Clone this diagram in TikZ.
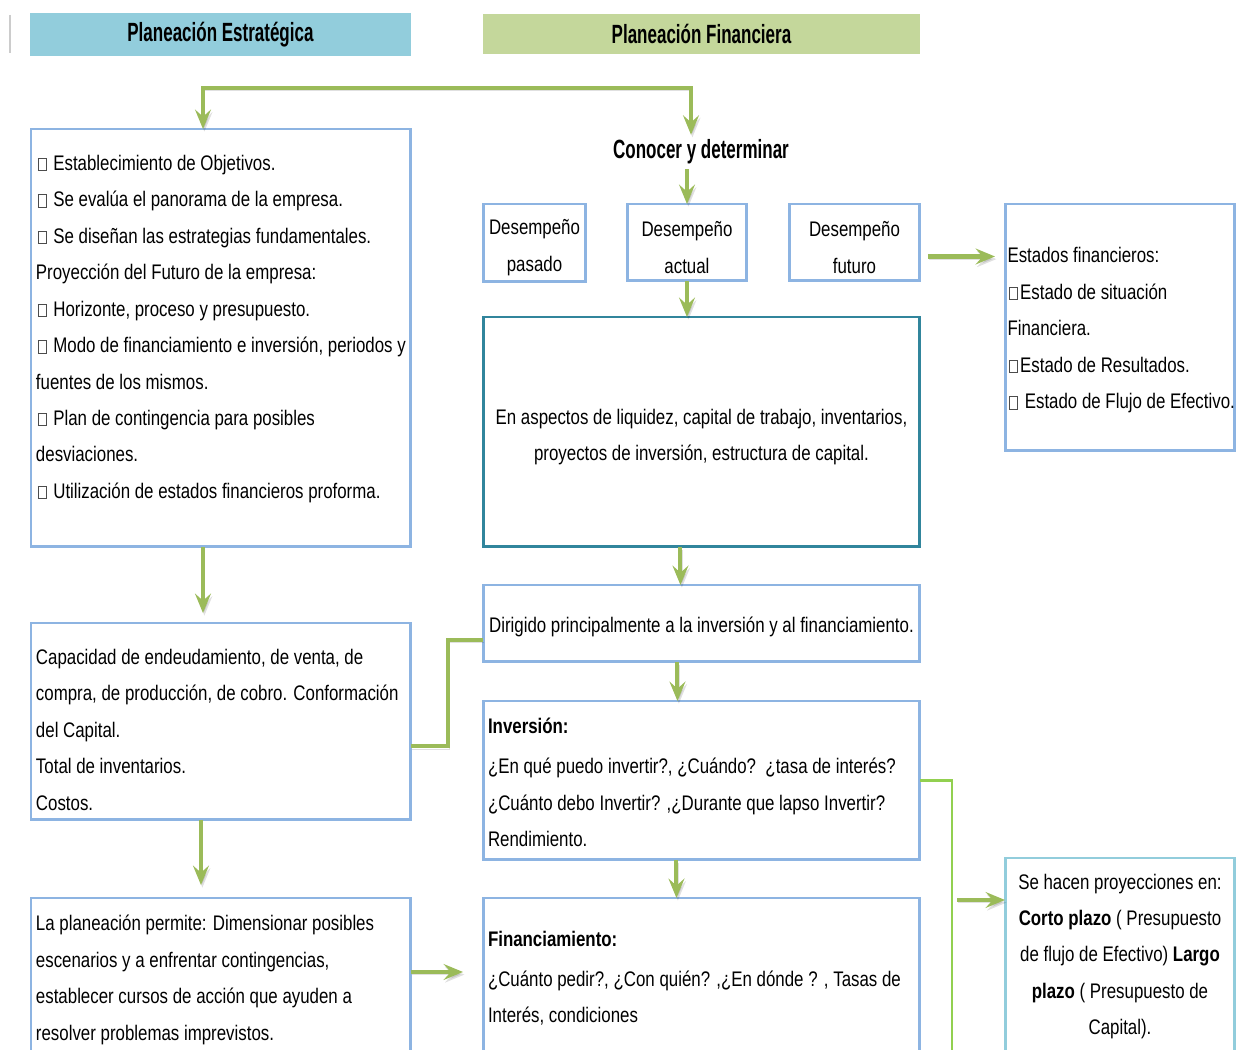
\documentclass[tikz,border=0pt]{standalone}
\usepackage{fontspec}
\setmainfont{Liberation Sans}[FakeStretch=0.8]
\newfontfamily\headfont{Liberation Sans}[FakeStretch=0.645]
\usetikzlibrary{arrows.meta, positioning}

\definecolor{boxblue}{HTML}{8DB4E2}
\definecolor{boxteal}{HTML}{31859C}
\definecolor{boxcyan}{HTML}{92CDDC}
\definecolor{headblue}{HTML}{92CDDC}
\definecolor{headgreen}{HTML}{C4D79B}
\definecolor{arrowgreen}{HTML}{9BBB59}
\definecolor{linegreen}{HTML}{92D050}

% empty glyph box as printed in the source
\newcommand\nobox{\leavevmode{\color{black!70}\fboxsep=0pt\fboxrule=0.4pt\kern1pt\fbox{\rule{0pt}{6.6pt}\hspace{4.2pt}}\kern1.2pt}}
% struts to move a text block down (top) or up (bottom) in its box
\newcommand\padtop[1]{\rule{0pt}{#1}}
\newcommand\padbot[1]{\rule[-#1]{0pt}{0pt}}

\begin{document}
\begin{tikzpicture}[
    x=0.02cm, y=-0.02cm,
    >={Stealth[length=11pt,width=9pt,inset=4pt]},
    every node/.style={outer sep=0pt},
    body/.style={font=\fontsize{12}{20.75}\selectfont},
    head/.style={font=\headfont\bfseries\fontsize{15}{18}\selectfont},
    title/.style={head, anchor=north west, inner sep=0pt},
    box/.style={body, draw=boxblue, line width=1.7pt, anchor=north west,
        inner xsep=0.1cm, align=flush left},
    cbox/.style={box, align=center},
    flow/.style={draw=arrowgreen, line width=2.3pt, ->,
        preaction={draw=black, opacity=0.12, transform canvas={shift={(0.8pt,-1.5pt)}}}},
    link/.style={flow, -},
]
    \useasboundingbox (0,0) rectangle (1237,1050);

    \draw[black!20, line width=1.2pt] (10,15) -- (10,53);

    % headings
    \node[title, fill=headblue,  minimum width=7.62cm, minimum height=0.86cm] (estrat) at (30,13)  {Planeación Estratégica};
    \node[title, fill=headgreen, minimum width=8.74cm, minimum height=0.80cm] (financ) at (483,14) {Planeación Financiera};

    % left column
    \node[box, text width=7.4cm, minimum height=8.36cm] (objetivos) at (31,129) {%
        \nobox{} Establecimiento de Objetivos.\\
        \nobox{} Se evalúa el panorama de la empresa.\\
        \nobox{} Se diseñan las estrategias fundamentales.\\
        Proyección del Futuro de la empresa:\\
        \nobox{} Horizonte, proceso y presupuesto.\\
        \mbox{\nobox{} Modo de financiamiento e inversión, periodos y}\\
        fuentes de los mismos.\\
        \nobox{} Plan de contingencia para posibles\\
        desviaciones.\\
        \nobox{} Utilización de estados financieros proforma.\padbot{0.45cm}};
    \node[box, text width=7.4cm, minimum height=3.94cm] (capac) at (31,623) {%
        \padtop{0.63cm}Capacidad de endeudamiento, de venta, de\\
        \mbox{compra, de producción, de cobro. Conformación}\\
        del Capital.\\
        Total de inventarios.\\
        Costos.};
    \node[box, text width=7.4cm, minimum height=3.28cm] (permite) at (31,898) {%
        La planeación permite: Dimensionar posibles\\
        escenarios y a enfrentar contingencias,\\
        establecer cursos de acción que ayuden a\\
        resolver problemas imprevistos.};

    % middle column
    \node[head, inner sep=0.1cm] (conocer) at (701,152) {Conocer y determinar};
    \node[cbox, inner xsep=0.04cm, minimum width=2.06cm, minimum height=1.54cm] (pasado) at (483,204) {\padtop{0.5cm}Desempeño\\pasado};
    \node[cbox, inner xsep=0.04cm, minimum width=2.40cm, minimum height=1.54cm] (actual) at (627,204) {\padtop{0.5cm}Desempeño\\actual};
    \node[cbox, inner xsep=0.04cm, minimum width=2.62cm, minimum height=1.54cm] (futuro) at (789,204) {\padtop{0.5cm}Desempeño\\futuro};
    \node[cbox, draw=boxteal, minimum width=8.74cm, minimum height=4.6cm] (aspectos) at (483,317) {%
        \padtop{0.5cm}En aspectos de liquidez, capital de trabajo, inventarios,\\
        proyectos de inversión, estructura de capital.};
    \node[cbox, minimum width=8.74cm, minimum height=1.54cm] (dirig) at (483,585) {%
        \padtop{0.45cm}Dirigido principalmente a la inversión y al financiamiento.};
    \node[box, text width=8.54cm, minimum height=3.18cm] (inver) at (483,701) {%
        \padtop{0.4cm}\textbf{Inversión:}\\[2pt]
        \mbox{¿En qué puedo invertir?, ¿Cuándo?~~¿tasa de interés?}\\
        \mbox{¿Cuánto debo Invertir? ,¿Durante que lapso Invertir?}\\
        Rendimiento.};
    \node[box, text width=8.54cm, minimum height=3.22cm] (finan) at (483,898) {%
        \textbf{Financiamiento:}\\[2pt]
        \mbox{¿Cuánto pedir?, ¿Con quién? ,¿En dónde ? , Tasas de}\\
        Interés, condiciones};

    % right column
    \node[box, inner xsep=0.05cm, text width=4.5cm, minimum height=4.94cm] (estados) at (1005,204) {%
        \padtop{0.42cm}Estados financieros:\\
        \nobox Estado de situación\\
        Financiera.\\
        \nobox Estado de Resultados.\\
        \mbox{\nobox{} Estado de Flujo de Efectivo.}};
    \node[cbox, draw=boxcyan, minimum width=4.6cm, minimum height=3.94cm] (proy) at (1005,858) {%
        Se hacen proyecciones en:\\
        \textbf{Corto plazo} ( Presupuesto\\
        de flujo de Efectivo) \textbf{Largo}\\
        \textbf{plazo} ( Presupuesto de\\
        Capital).};

    % connectors
    \coordinate (forkL) at (203,88);
    \coordinate (forkR) at (691,88);
    \coordinate (drop)  at (952,1080);
    \coordinate (fut)   at ([yshift=-0.28cm]futuro.east);
    \coordinate (perm)  at ([yshift=0.16cm]permite.east);
    \coordinate (cap)   at ([yshift=-0.5cm]capac.east);
    \coordinate (dir)   at ([yshift=-0.33cm]dirig.west);
    \coordinate (pin)   at ([yshift=1.13cm]proy.west);

    \draw[flow, <->] (objetivos.north -| forkL) -- (forkL) -- (forkR) -- (conocer.north -| forkR);
    \draw[flow] (conocer.south -| actual.north) -- (actual.north);
    \draw[flow] (actual.south) -- (actual.south |- aspectos.north);
    \draw[flow] ([xshift=-0.42cm]aspectos.south) -- ([xshift=-0.42cm]dirig.north);
    \draw[flow] ([xshift=-0.48cm]dirig.south) -- ([xshift=-0.48cm]inver.north);
    \draw[flow] ([xshift=-0.5cm]inver.south) -- ([xshift=-0.5cm]finan.north);
    \draw[flow, shorten >=0.2cm]  ([xshift=-0.36cm]objetivos.south) -- ([xshift=-0.36cm]capac.north);
    \draw[flow, shorten >=0.26cm] ([xshift=-0.4cm]capac.south) -- ([xshift=-0.4cm]permite.north);
    \draw[flow, shorten <=0.16cm, shorten >=0.2cm] (fut) -- (fut -| estados.west);
    \draw[flow, shorten >=0.4cm] (perm) -- (perm -| finan.west);
    \draw[link] (cap) -- ++(0.74cm,0) |- (dir);
    \draw[linegreen, line width=1.5pt] (inver.east) -| (drop);
    \draw[flow, shorten <=0.1cm] (pin -| drop) -- (pin);
\end{tikzpicture}
\end{document}
